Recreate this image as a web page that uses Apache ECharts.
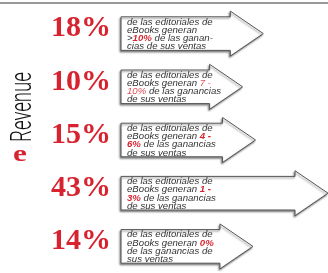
<!DOCTYPE html>
<html>
<head>
<meta charset="utf-8">
<script src="https://cdn.jsdelivr.net/npm/echarts@6/dist/echarts.min.js"></script>
<style>
  html, body { margin: 0; padding: 0; background: #fff; }
  #main { width: 328px; height: 273px; }
</style>
</head>
<body>
<div id="main"></div>
<script>
var chart = echarts.init(document.getElementById('main'));

// porcentaje de editoriales (largo de cada flecha)
var percents = [18, 10, 15, 43, 14];
var categories = ['18%', '10%', '15%', '43%', '14%'];
// texto de cada flecha, con {r|...} para la parte en rojo
var arrowTexts = [
  'de las editoriales de\neBooks generan\n>{r|10%} de las ganan-\ncias de sus ventas',
  'de las editoriales de\neBooks generan {l|7 -}\n{l|10%} de las ganancias\nde sus ventas',
  'de las editoriales de\neBooks generan {r|4 -}\n{r|6%} de las ganancias\nde sus ventas',
  'de las editoriales de\neBooks generan {r|1 -}\n{r|3%} de las ganancias\nde sus ventas',
  'de las editoriales de\neBooks generan {r|0%}\nde las ganancias de\nsus ventas'
];
var xMin = -37, xMax = 43;

var red = '#d7232f';

var data = percents.map(function (v, i) { return [v, i]; });

var option = {
  animation: false,
  grid: { left: 121, right: 0, top: 7, bottom: 0 },
  xAxis: { type: 'value', min: xMin, max: xMax, show: false },
  yAxis: { type: 'category', data: categories, inverse: true, show: false },
  graphic: [
    {
      type: 'line',
      shape: { x1: 0, y1: 3, x2: 328, y2: 3 },
      style: { stroke: '#777', lineWidth: 1.5 }
    },
    {
      type: 'text',
      x: 23, y: 107,
      rotation: Math.PI / 2,
      scaleX: 0.62,
      style: {
        text: 'Revenue',
        font: '300 30px Roboto',
        fill: '#111',
        align: 'center',
        verticalAlign: 'middle'
      }
    },
    {
      type: 'text',
      x: 20, y: 155,
      scaleX: 1.3,
      style: {
        text: 'e',
        font: 'bold 24px "Liberation Serif"',
        fill: red,
        align: 'center',
        verticalAlign: 'middle'
      }
    }
  ],
  series: [{
    type: 'custom',
    data: data,
    encode: { x: 0, y: 1 },
    renderItem: function (params, api) {
      var i = api.value(1);
      var tipPt = api.coord([api.value(0), i]);
      var x0 = api.coord([xMin, i])[0];
      var tip = tipPt[0], cy = tipPt[1];
      var bh = 16.8, hh = 22.5, hl = 33;
      var fs = 8.6, lh = 8.2, ff = '"Liberation Sans"';
      return {
        type: 'group',
        children: [
          {
            type: 'polygon',
            shape: {
              points: [
                [x0, cy - bh], [tip - hl, cy - bh], [tip - hl, cy - hh],
                [tip, cy], [tip - hl, cy + hh], [tip - hl, cy + bh], [x0, cy + bh]
              ]
            },
            style: {
              fill: '#fff',
              stroke: '#555',
              lineWidth: 1,
              shadowBlur: 2,
              shadowOffsetX: -1,
              shadowOffsetY: 1.5,
              shadowColor: 'rgba(0,0,0,0.45)'
            }
          },
          {
            type: 'text',
            x: x0 + 6,
            y: cy + 1,
            scaleX: 1.12,
            style: {
              x: 0, y: 0,
              text: arrowTexts[params.dataIndex],
              fontSize: fs,
              fontStyle: 'italic',
              fontFamily: ff,
              lineHeight: lh,
              fill: '#333',
              align: 'left',
              verticalAlign: 'middle',
              rich: {
                r: { fontSize: fs, fontStyle: 'italic', fontWeight: 'bold', fontFamily: ff, fill: red, lineHeight: lh },
                l: { fontSize: fs, fontStyle: 'italic', fontFamily: ff, fill: '#e0505a', lineHeight: lh }
              }
            }
          },
          {
            type: 'text',
            style: {
              x: 111, y: cy - 5,
              text: categories[params.dataIndex],
              font: 'bold 30px "Liberation Serif"',
              fill: red,
              align: 'right',
              verticalAlign: 'middle'
            }
          }
        ]
      };
    }
  }]
};

chart.setOption(option);
</script>
</body>
</html>
